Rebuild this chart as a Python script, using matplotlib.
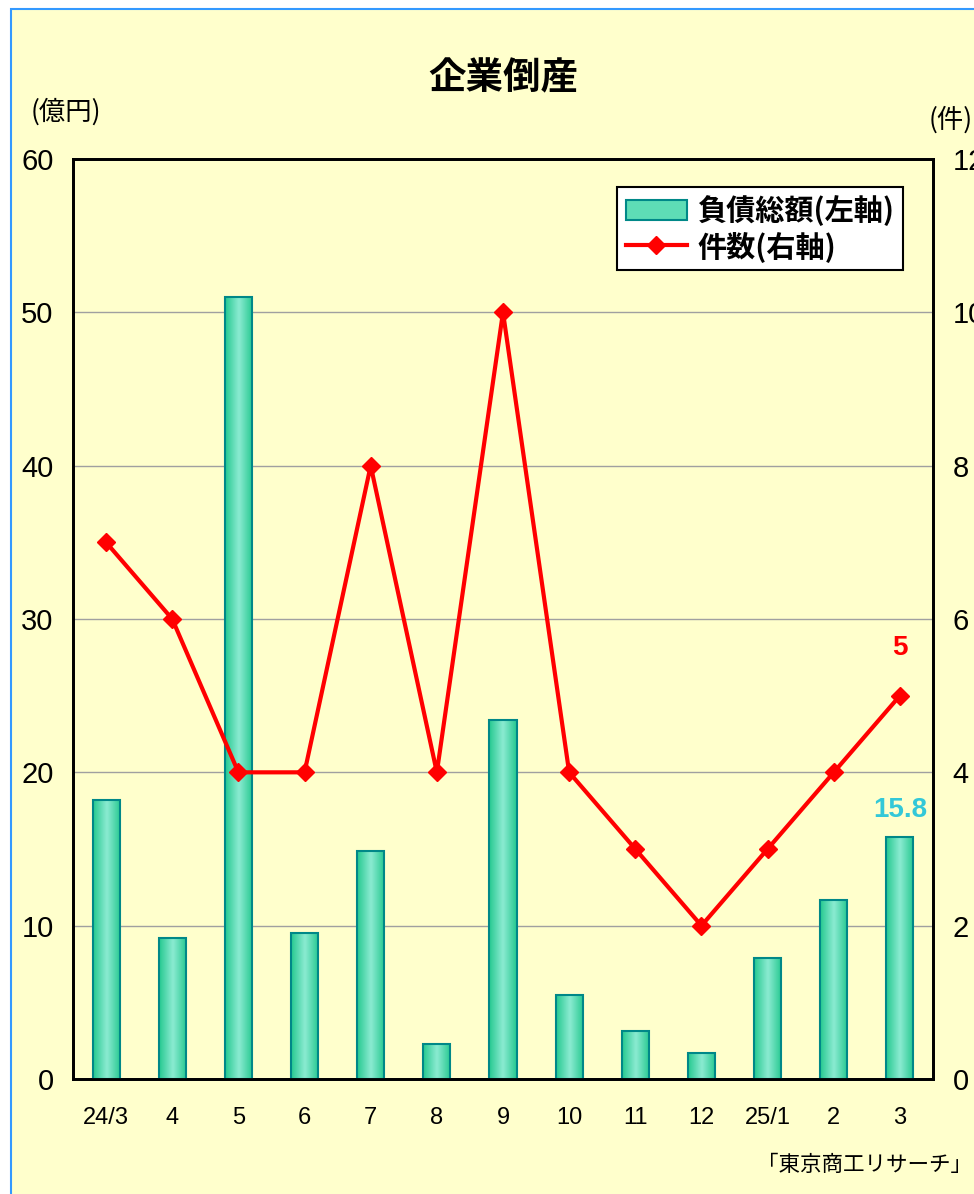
import matplotlib
matplotlib.use('Agg')
import matplotlib.pyplot as plt
import numpy as np
from matplotlib.patches import Rectangle, Patch
from matplotlib.lines import Line2D
from matplotlib.colors import LinearSegmentedColormap

# monthly data, 2024/3 .. 2025/3
months = ['24/3', '4', '5', '6', '7', '8', '9', '10', '11', '12', '25/1', '2', '3']
debt = [18.2, 9.2, 51.0, 9.5, 14.9, 2.3, 23.4, 5.5, 3.1, 1.7, 7.9, 11.7, 15.8]   # 億円
cases = [7, 6, 4, 4, 8, 4, 10, 4, 3, 2, 3, 4, 5]                                  # 件
left_ticks = [0, 10, 20, 30, 40, 50, 60]
right_ticks = [0, 2, 4, 6, 8, 10, 12]

num_font = ['Liberation Sans Narrow', 'Liberation Sans', 'DejaVu Sans']
jp_font = ['Noto Sans CJK JP', 'DejaVu Sans']
plt.rcParams['font.family'] = jp_font

bg = '#FFFFCC'
W, H = 974, 1194
fig = plt.figure(figsize=(W/100, H/100), dpi=100, facecolor='white')
fig.patches.append(Rectangle((11/W, -0.05), 1.2, 1.05 - 9/H, transform=fig.transFigure,
                             facecolor=bg, edgecolor='#3399FF', lw=1.5, zorder=-10))

ax = fig.add_axes([73/W, (H-1079)/H, 860/W, 920/H])
ax.set_facecolor(bg)
x = np.arange(len(months))
bars = ax.bar(x, debt, width=0.41, facecolor='none', edgecolor='#008888', lw=1.5, zorder=3)

# horizontal shading inside each bar
cmap = LinearSegmentedColormap.from_list('bar', ['#26C990', '#8CEBD2', '#26C990'])
grad = np.linspace(0, 1, 64).reshape(1, -1)
for b in bars:
    bx, bw, bh = b.get_x(), b.get_width(), b.get_height()
    ax.imshow(grad, cmap=cmap, extent=[bx, bx+bw, 0, bh], aspect='auto',
              interpolation='bicubic', zorder=2)

ax.set_xlim(-0.5, len(months)-0.5)
ax.set_ylim(0, 60)
ax.set_yticks(left_ticks)
ax.yaxis.grid(True, color='#A0A0A0', lw=1)
ax.set_axisbelow(True)
ax.set_xticks(x)
ax.set_xticklabels(months, family=num_font, fontsize=17)
for t in ax.get_yticklabels():
    t.set_family(num_font)
    t.set_fontsize(21)
ax.tick_params(axis='both', length=0)
ax.tick_params(axis='y', pad=14)
ax.tick_params(axis='x', pad=20)
for s in ax.spines.values():
    s.set_linewidth(2)
    s.set_color('black')

ax2 = ax.twinx()
ax2.plot(x, cases, color='#FF0000', lw=3, marker='D', ms=9, zorder=5)
ax2.set_ylim(0, 12)
ax2.set_yticks(right_ticks)
for t in ax2.get_yticklabels():
    t.set_family(num_font)
    t.set_fontsize(21)
ax2.tick_params(axis='y', length=0, pad=14)
for s in ax2.spines.values():
    s.set_linewidth(2)

# latest values
ax2.text(x[-1], cases[-1] + 0.45, str(cases[-1]), color='#FF0000', fontsize=20,
         fontweight='bold', family=num_font, ha='center', va='bottom')
ax.text(x[-1], debt[-1] + 0.9, f'{debt[-1]:.1f}', color='#33C8D8', fontsize=20,
        fontweight='bold', family=num_font, ha='center', va='bottom')

handles = [Patch(facecolor='#5EDDB6', edgecolor='#008888', lw=1.5),
           Line2D([], [], color='#FF0000', lw=3, marker='D', ms=9)]
leg = ax2.legend(handles, ['負債総額(左軸)', '件数(右軸)'], loc='upper right',
                 bbox_to_anchor=(0.965, 0.970), borderaxespad=0, fancybox=False,
                 framealpha=1, edgecolor='black',
                 prop={'family': jp_font, 'weight': 'bold', 'size': 21},
                 handlelength=2.1, handletextpad=0.35, borderpad=0.3, labelspacing=0.15)
leg.get_frame().set_linewidth(1.5)

fig.text(503/W, 1 - 78/H, '企業倒産', fontsize=27, fontweight='bold', ha='center', va='center')
fig.text(66/W, 1 - 112/H, '(億円)', fontsize=19, ha='center', va='center')
fig.text(929/W, 1 - 120/H, '(件)', fontsize=19, ha='left', va='center')
fig.text(972/W, 1 - 1165/H, '「東京商工リサーチ」', fontsize=15.5, ha='right', va='center')

fig.savefig('out.png', dpi=100, facecolor=fig.get_facecolor())
